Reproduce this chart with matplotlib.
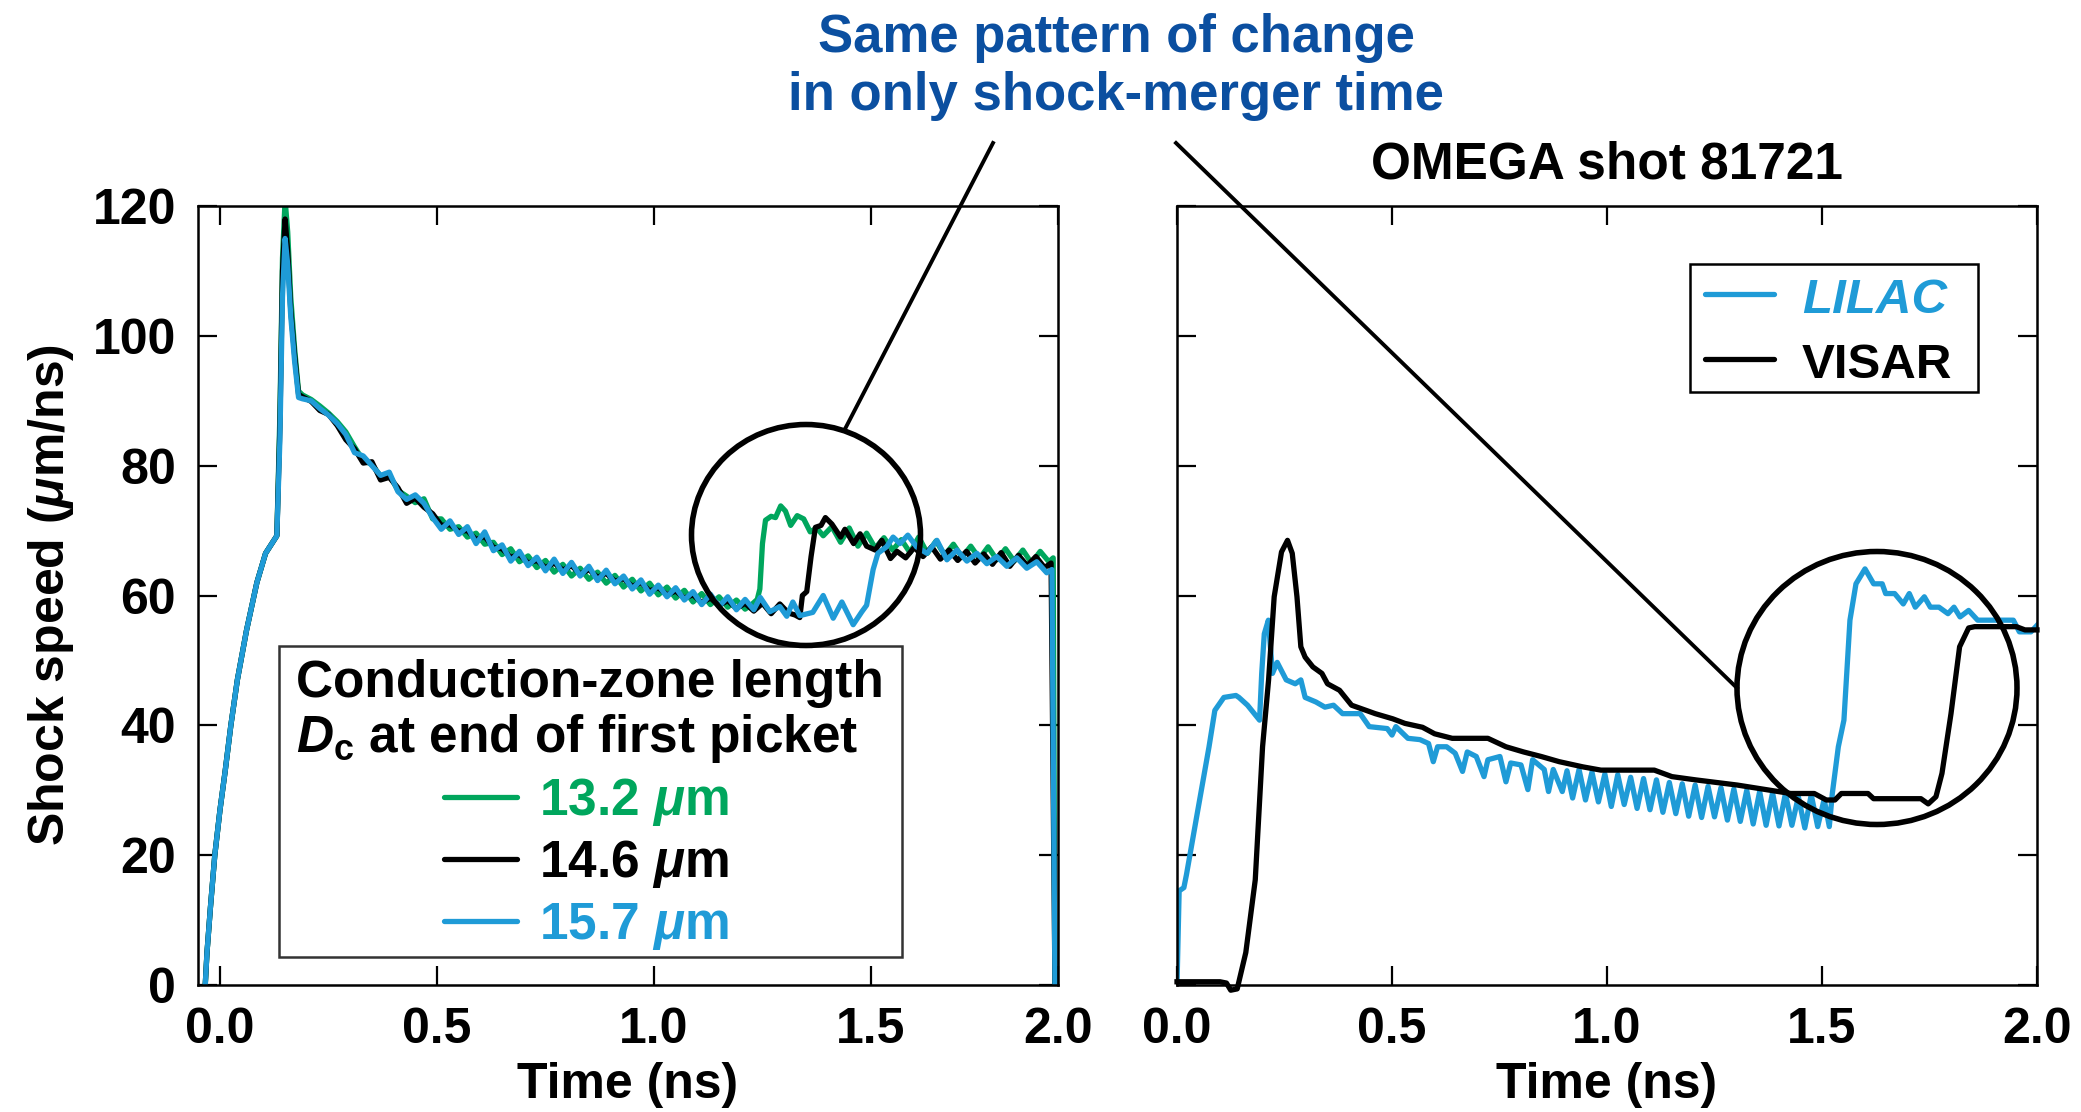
import numpy as np
import matplotlib
matplotlib.use("Agg")
import matplotlib.pyplot as plt
from matplotlib.patches import Ellipse, Rectangle
from matplotlib.lines import Line2D

plt.rcParams['font.family'] = ['Liberation Sans', 'DejaVu Sans']
plt.rcParams['font.weight'] = 'bold'
plt.rcParams['axes.labelweight'] = 'bold'
plt.rcParams['mathtext.fontset'] = 'custom'
plt.rcParams['mathtext.rm'] = 'Liberation Sans:bold'
plt.rcParams['mathtext.it'] = 'Liberation Sans:italic:bold'
plt.rcParams['mathtext.bf'] = 'Liberation Sans:bold'

GREEN = '#00a65d'
BLUE = '#1f9bd7'
NAVY = '#0b4fa0'

# ---- left panel: simulated shock speed for three conduction-zone lengths ----
t_rise = [-0.034, -0.030, -0.022, -0.012, 0.000, 0.012, 0.025, 0.040, 0.061, 0.085, 0.105, 0.131]
v_rise = [0.0, 5.0, 12.0, 20.0, 27.0, 33.0, 40.0, 47.0, 54.6, 62.0, 66.5, 69.2]

t_peak = [0.138, 0.144, 0.150, 0.156, 0.163, 0.172, 0.181]
v_peak_132 = [88.0, 112.0, 121.0, 116.0, 106.0, 98.0, 91.5]
v_peak_146 = [86.0, 110.0, 118.0, 113.0, 104.0, 97.0, 91.0]
v_peak_157 = [84.0, 106.0, 115.0, 111.0, 103.0, 96.0, 90.5]

t_decay = [0.19, 0.21, 0.23, 0.25, 0.27, 0.29, 0.31, 0.33, 0.35, 0.37,
           0.39, 0.41, 0.43, 0.45, 0.47, 0.49, 0.51, 0.53, 0.55, 0.57,
           0.59, 0.61, 0.63, 0.65, 0.67, 0.69, 0.71, 0.73, 0.75, 0.77,
           0.79, 0.81, 0.83, 0.85, 0.87, 0.89, 0.91, 0.93, 0.95, 0.97,
           0.99, 1.01, 1.03, 1.05, 1.07, 1.09, 1.11, 1.13, 1.15, 1.17,
           1.19, 1.21]
v_decay_132 = [90.9, 90.2, 89.2, 88.1, 86.8, 85.2, 82.9, 80.8, 80.2, 78.4,
               78.6, 76.2, 75.3, 74.3, 74.9, 71.8, 71.8, 70.2, 70.6, 69.0,
               69.6, 67.9, 68.2, 66.3, 67.2, 65.2, 66.1, 64.3, 65.4, 63.6,
               64.8, 63.0, 64.2, 62.5, 63.6, 61.9, 63.1, 61.3, 62.5, 60.7,
               61.9, 60.1, 61.3, 59.6, 60.8, 59.0, 60.3, 58.6, 59.8, 58.2,
               59.3, 57.9]
v_decay_146 = [90.6, 89.9, 88.5, 87.9, 86.2, 84.0, 82.6, 80.4, 80.6, 77.8,
               78.2, 76.6, 74.2, 75.0, 73.6, 72.6, 70.8, 70.9, 69.9, 70.0,
               68.6, 69.1, 67.4, 67.2, 65.9, 66.3, 65.0, 65.4, 64.3, 65.0,
               63.9, 64.6, 63.3, 64.0, 62.8, 63.4, 62.2, 62.6, 61.4, 62.0,
               60.7, 61.2, 60.1, 60.7, 59.6, 60.1, 58.9, 59.6, 58.5, 59.2,
               58.0, 58.8]
v_decay_157 = [90.3, 90.0, 88.8, 87.8, 86.5, 84.8, 82.0, 81.5, 80.0, 78.5,
               79.0, 76.0, 74.8, 75.5, 74.2, 72.0, 70.2, 71.5, 69.4, 70.6,
               68.0, 69.8, 66.9, 67.8, 65.3, 66.8, 64.6, 65.9, 63.8, 65.6,
               63.4, 65.1, 63.0, 64.5, 62.3, 63.9, 61.8, 63.0, 61.0, 62.4,
               60.2, 61.6, 59.8, 61.2, 59.3, 60.6, 58.6, 60.2, 58.3, 59.8,
               57.8, 59.4]

t_tail_132 = [1.225, 1.238, 1.244, 1.250, 1.257, 1.270, 1.280, 1.292, 1.303, 1.315,
              1.330, 1.345, 1.360, 1.375, 1.390, 1.410, 1.430, 1.450, 1.470, 1.490,
              1.510, 1.530, 1.550, 1.570, 1.590, 1.610, 1.630, 1.650, 1.670, 1.690,
              1.710, 1.730, 1.750, 1.770, 1.790, 1.810, 1.830, 1.850, 1.870, 1.890,
              1.910, 1.920, 1.924]
v_tail_132 = [58.6, 59.4, 61.0, 68.0, 71.6, 72.2, 72.0, 73.8, 73.0, 70.8,
              72.3, 71.8, 69.8, 70.4, 69.2, 70.6, 68.2, 70.4, 67.6, 69.6,
              67.3, 68.9, 67.0, 68.6, 66.6, 69.0, 66.5, 68.4, 66.2, 67.9,
              65.9, 67.6, 65.7, 67.5, 65.5, 67.2, 65.3, 67.0, 65.0, 66.8,
              65.2, 65.8, 0.0]

t_tail_146 = [1.230, 1.250, 1.270, 1.290, 1.310, 1.325, 1.336, 1.342, 1.352, 1.362,
              1.372, 1.385, 1.395, 1.410, 1.430, 1.440, 1.460, 1.475, 1.490, 1.510,
              1.525, 1.545, 1.560, 1.580, 1.600, 1.620, 1.640, 1.660, 1.680, 1.700,
              1.720, 1.740, 1.760, 1.780, 1.800, 1.820, 1.840, 1.860, 1.880, 1.900,
              1.915, 1.924]
v_tail_146 = [57.6, 58.8, 57.2, 58.7, 57.3, 57.0, 56.6, 60.0, 60.6, 66.0,
              70.5, 70.8, 72.0, 71.0, 69.0, 70.2, 68.0, 69.5, 67.6, 67.0,
              68.5, 65.7, 66.8, 65.8, 67.4, 66.0, 67.5, 65.6, 67.0, 65.4,
              66.8, 65.0, 66.4, 64.8, 66.6, 64.5, 66.2, 64.6, 66.0, 64.3,
              65.0, 0.0]

t_tail_157 = [1.230, 1.245, 1.267, 1.290, 1.306, 1.320, 1.336, 1.366, 1.390, 1.413,
              1.433, 1.459, 1.479, 1.490, 1.505, 1.516, 1.536, 1.551, 1.567, 1.585,
              1.605, 1.629, 1.652, 1.675, 1.698, 1.721, 1.744, 1.767, 1.790, 1.813,
              1.836, 1.859, 1.882, 1.905, 1.917, 1.924]
v_tail_157 = [57.8, 59.7, 57.5, 58.3, 56.8, 59.0, 56.9, 57.4, 60.0, 56.5,
              59.0, 55.5, 57.5, 58.5, 64.0, 66.5, 67.5, 69.0, 68.0, 69.3,
              67.5, 66.5, 68.5, 65.5, 67.0, 65.3, 66.5, 64.9, 66.0, 64.5,
              65.8, 64.2, 65.2, 63.5, 64.0, 0.0]

# ---- right panel: OMEGA shot 81721 ----
t_lilac = [0.000, 0.005, 0.016, 0.022, 0.047, 0.0745, 0.088, 0.109, 0.137, 0.144,
           0.164, 0.192, 0.197, 0.203, 0.2125, 0.222, 0.233, 0.254, 0.275, 0.288,
           0.298, 0.323, 0.344, 0.364, 0.385, 0.426, 0.447, 0.489, 0.500, 0.509,
           0.537, 0.565, 0.585, 0.596, 0.606, 0.627, 0.647, 0.664, 0.675, 0.696,
           0.714, 0.723, 0.751, 0.765, 0.776, 0.800, 0.816, 0.827, 0.854, 0.864,
           0.875, 0.896, 0.907, 0.920, 0.935, 0.950, 0.965, 0.980, 0.995, 1.010,
           1.025, 1.040, 1.055, 1.070, 1.085, 1.100, 1.115, 1.130, 1.145, 1.160,
           1.175, 1.190, 1.205, 1.220, 1.235, 1.250, 1.265, 1.280, 1.295, 1.310,
           1.325, 1.340, 1.355, 1.370, 1.385, 1.400, 1.415, 1.430, 1.445, 1.460,
           1.475, 1.490, 1.505, 1.517, 1.524, 1.538, 1.551, 1.565, 1.579, 1.600,
           1.620, 1.640, 1.648, 1.669, 1.689, 1.703, 1.717, 1.738, 1.752, 1.772,
           1.793, 1.807, 1.821, 1.841, 1.862, 1.896, 1.945, 1.959, 1.986, 2.000]
v_lilac = [0.0, 14.5, 15.0, 17.0, 26.4, 36.7, 42.3, 44.3, 44.6, 44.3,
           43.1, 40.8, 48.0, 54.1, 56.2, 48.0, 49.7, 47.0, 46.4, 47.0,
           44.3, 43.6, 42.8, 43.1, 41.8, 41.8, 39.8, 39.5, 38.5, 39.8,
           38.0, 37.8, 37.2, 34.4, 36.7, 36.7, 35.7, 32.9, 35.9, 35.2,
           32.1, 34.7, 35.2, 31.3, 34.2, 33.9, 30.1, 34.7, 33.2, 29.8,
           33.2, 29.8, 33.0, 28.8, 33.2, 28.5, 32.8, 28.2, 32.5, 27.5,
           32.4, 27.8, 32.0, 27.2, 31.8, 27.0, 31.6, 26.6, 31.2, 26.4,
           31.0, 26.0, 30.8, 25.8, 30.6, 25.9, 30.4, 25.4, 30.2, 25.2,
           30.0, 24.8, 29.8, 24.6, 29.6, 24.5, 29.5, 24.6, 29.0, 24.2,
           29.3, 24.4, 28.6, 24.4, 29.5, 36.7, 40.8, 56.2, 61.8, 64.1,
           61.8, 61.8, 60.3, 60.3, 58.7, 60.3, 58.2, 59.8, 58.2, 58.2,
           57.2, 58.2, 56.7, 57.7, 56.2, 56.2, 56.2, 54.4, 54.4, 55.4]

t_visar = [0.000, 0.100, 0.115, 0.125, 0.140, 0.160, 0.182, 0.199, 0.213, 0.226,
           0.243, 0.257, 0.268, 0.279, 0.288, 0.298, 0.316, 0.337, 0.350, 0.378,
           0.406, 0.440, 0.461, 0.502, 0.530, 0.571, 0.599, 0.640, 0.723, 0.765,
           0.806, 0.847, 0.889, 0.944, 0.986, 1.110, 1.151, 1.206, 1.303, 1.427,
           1.482, 1.510, 1.530, 1.545, 1.607, 1.620, 1.730, 1.747, 1.765, 1.779,
           1.800, 1.820, 1.841, 1.855, 1.952, 1.972, 2.000]
v_visar = [0.5, 0.5, 0.3, -0.8, -0.6, 5.0, 16.2, 36.7, 47.0, 59.8,
           66.7, 68.5, 66.5, 59.8, 52.1, 50.5, 49.0, 48.0, 46.4, 45.4,
           43.1, 42.3, 41.8, 41.0, 40.3, 39.7, 38.7, 38.0, 38.0, 36.7,
           35.9, 35.2, 34.4, 33.6, 33.1, 33.1, 32.1, 31.6, 30.8, 29.5,
           29.5, 28.5, 28.5, 29.5, 29.5, 28.7, 28.7, 27.9, 29.0, 32.6,
           41.8, 52.1, 55.0, 55.2, 55.2, 54.7, 54.7]

yticks = [0, 20, 40, 60, 80, 100, 120]

W, H = 2081, 1112
fig = plt.figure(figsize=(W / 100, H / 100), dpi=100)


def px(x, y):
    # pixel position (from top-left) -> figure fraction
    return x / W, 1 - y / H


def style_axes(ax):
    for s in ax.spines.values():
        s.set_linewidth(1.8)
    ax.tick_params(direction='in', length=14, width=1.6, top=True, right=True,
                   labelsize=36, pad=16)
    ax.set_ylim(0, 120)
    ax.set_yticks(yticks)


axL = fig.add_axes([198 / W, 127 / H, 860 / W, 779 / H])
axR = fig.add_axes([1177 / W, 127 / H, 860 / W, 779 / H])

lw = 3.8
axL.plot(t_rise + t_peak + t_decay + t_tail_132,
         v_rise + v_peak_132 + v_decay_132 + v_tail_132, color=GREEN, lw=lw)
axL.plot(t_rise + t_peak + t_decay + t_tail_146,
         v_rise + v_peak_146 + v_decay_146 + v_tail_146, color='black', lw=lw)
axL.plot(t_rise + t_peak + t_decay + t_tail_157,
         v_rise + v_peak_157 + v_decay_157 + v_tail_157, color=BLUE, lw=lw)
style_axes(axL)
axL.set_xlim(-0.0507, 1.931)
axL.set_xticks([0, 0.5, 1.0, 1.5, 1.931])
axL.set_xticklabels(['0.0', '0.5', '1.0', '1.5', '2.0'])
axL.set_xlabel('Time (ns)', fontsize=36, labelpad=6)
axL.set_ylabel(r'Shock speed ($\mu$m/ns)', fontsize=36, labelpad=12)

axR.plot(t_lilac, v_lilac, color=BLUE, lw=lw)
axR.plot(t_visar, v_visar, color='black', lw=lw, clip_on=False)
style_axes(axR)
axR.set_xlim(0, 2.0)
axR.set_xticks([0, 0.5, 1.0, 1.5, 2.0])
axR.set_xticklabels(['0.0', '0.5', '1.0', '1.5', '2.0'])
axR.tick_params(labelleft=False)
axR.set_xlabel('Time (ns)', fontsize=36, labelpad=6)
axR.set_title('OMEGA shot 81721', fontsize=37, fontweight='bold', pad=20)

# left legend box
fig.add_artist(Rectangle(px(279, 957), 623 / W, 311 / H, transform=fig.transFigure,
                         fill=True, facecolor='white', edgecolor='#333333', lw=1.8, zorder=5))
fig.text(*px(296, 697), 'Conduction-zone length', fontsize=37, ha='left', va='baseline', zorder=6)
fig.text(*px(296, 752), r'$D_\mathrm{c}$ at end of first picket', fontsize=37,
         ha='left', va='baseline', zorder=6)
entries = [(r'13.2 $\mu$m', GREEN, 815), (r'14.6 $\mu$m', 'black', 877), (r'15.7 $\mu$m', BLUE, 939)]
for label, c, yb in entries:
    x0, y0 = px(444, yb - 18)
    x1, _ = px(517, yb - 18)
    fig.add_artist(Line2D([x0, x1], [y0, y0], transform=fig.transFigure, color=c,
                          lw=lw, solid_capstyle='round', zorder=6))
    fig.text(*px(539, yb), label, fontsize=37, color=c, ha='left', va='baseline', zorder=6)

# right legend box
fig.add_artist(Rectangle(px(1690, 392), 288 / W, 128 / H, transform=fig.transFigure,
                         fill=True, facecolor='white', edgecolor='black', lw=1.8, zorder=5))
for label, c, yb, style in [('LILAC', BLUE, 313, 'italic'), ('VISAR', 'black', 378, 'normal')]:
    x0, y0 = px(1705, yb - 19)
    x1, _ = px(1774, yb - 19)
    fig.add_artist(Line2D([x0, x1], [y0, y0], transform=fig.transFigure, color=c,
                          lw=lw, solid_capstyle='round', zorder=6))
    fig.text(*px(1802, yb), label, fontsize=35.5, color=c, style=style,
             ha='left', va='baseline', zorder=6)

# callout circles and connectors
fig.add_artist(Ellipse(px(806, 535), 229 / W, 221 / H, transform=fig.transFigure,
                       fill=False, edgecolor='black', lw=4, zorder=7))
fig.add_artist(Ellipse(px(1877, 688), 280 / W, 273 / H, transform=fig.transFigure,
                       fill=False, edgecolor='black', lw=4, zorder=7))
a, b = px(993, 143), px(845, 429)
fig.add_artist(Line2D([a[0], b[0]], [a[1], b[1]], transform=fig.transFigure, color='black', lw=2.8))
a, b = px(1176, 143), px(1737, 688)
fig.add_artist(Line2D([a[0], b[0]], [a[1], b[1]], transform=fig.transFigure, color='black', lw=2.8))

fig.text(*px(1116, 52), 'Same pattern of change', fontsize=38, color=NAVY,
         ha='center', va='baseline')
fig.text(*px(1116, 110), 'in only shock-merger time', fontsize=38, color=NAVY,
         ha='center', va='baseline')

fig.savefig('out.png', dpi=100)
